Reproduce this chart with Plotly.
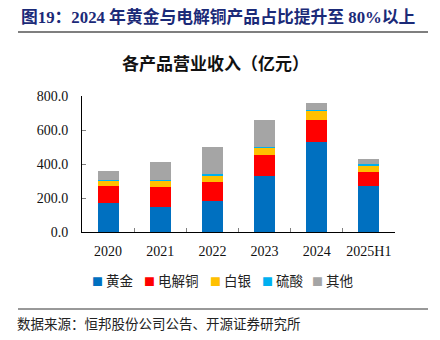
import plotly.graph_objects as go

# ---- data ----
categories = ["2020", "2021", "2022", "2023", "2024", "2025H1"]
gold = [171, 146, 180, 332, 531, 271]
copper = [100, 119, 117, 121, 127, 82]
silver = [31, 37, 37, 45, 55, 39]
acid = [4, 3, 7, 3, 4, 10]
other = [53, 108, 158, 155, 40, 27]
series_names = ["黄金", "电解铜", "白银", "硫酸", "其他"]
y_ticks = [0, 200, 400, 600, 800]

title_text = "图19：2024 年黄金与电解铜产品占比提升至 80%以上"
subtitle_text = "各产品营业收入（亿元）"
source_text = "数据来源：恒邦股份公司公告、开源证券研究所"

# ---- style ----
colors = ["#0070C0", "#FF0000", "#FFC000", "#00B0F0", "#A5A5A5"]
W, H = 440, 340
ML, MR, MT, MB = 82, 45, 96, 108
PW, PH = W - ML - MR, H - MT - MB
SERIF = "Liberation Serif, Noto Sans CJK SC"
CJK = "Noto Sans CJK SC"


def px_x(px):
    return (px - ML) / PW


def px_y(py):
    return (H - MB - py) / PH


fig = go.Figure()
for name, vals, col in zip(series_names, [gold, copper, silver, acid, other], colors):
    fig.add_trace(go.Bar(
        x=categories, y=vals, name=name,
        marker=dict(color=col, line=dict(width=0)),
        showlegend=False,
    ))

# legend drawn as text items (coloured square glyph + name)
legend_left_px = [90, 142, 208, 260, 310]
annotations = []
for name, col, lx in zip(series_names, colors, legend_left_px):
    annotations.append(dict(
        text=f"<span style='color:{col};font-size:11px'>■</span> {name}",
        x=px_x(lx), y=px_y(280), xref="paper", yref="paper",
        xanchor="left", yanchor="middle", showarrow=False,
        font=dict(family=CJK, size=13.5, color="#222222"),
    ))

annotations += [
    dict(text=f"<b>{title_text}</b>", x=px_x(19), y=px_y(17), xref="paper", yref="paper",
         xanchor="left", yanchor="middle", showarrow=False,
         font=dict(family=SERIF, size=16.8, color="#1B2A78")),
    dict(text=f"<b>{subtitle_text}</b>", x=px_x(215), y=px_y(62), xref="paper", yref="paper",
         xanchor="center", yanchor="middle", showarrow=False,
         font=dict(family=CJK, size=17, color="#111111")),
    dict(text=source_text, x=px_x(15), y=px_y(323), xref="paper", yref="paper",
         xanchor="left", yanchor="middle", showarrow=False,
         font=dict(family=CJK, size=13.5, color="#222222")),
]

shapes = [
    dict(type="line", xref="paper", yref="paper", x0=px_x(18), x1=px_x(428),
         y0=px_y(32), y1=px_y(32), line=dict(color="#7F7F7F", width=2)),
    dict(type="line", xref="paper", yref="paper", x0=px_x(18), x1=px_x(428),
         y0=px_y(309), y1=px_y(309), line=dict(color="#333333", width=1)),
]

fig.update_layout(
    width=W, height=H,
    margin=dict(l=ML, r=MR, t=MT, b=MB, pad=0),
    barmode="stack", bargap=0.6,
    plot_bgcolor="white", paper_bgcolor="white",
    annotations=annotations, shapes=shapes,
    showlegend=False,
    xaxis=dict(
        type="category", showline=True, linecolor="#000000", linewidth=1,
        ticks="inside", tickson="boundaries", ticklen=4, tickcolor="#808080",
        tickfont=dict(family=SERIF, size=14, color="#111111"),
        tickangle=0, automargin=False,
        ticklabelstandoff=6, showgrid=False, zeroline=False, fixedrange=True,
    ),
    yaxis=dict(
        range=[0, 800], tickvals=y_ticks, tickformat=".1f",
        showline=True, linecolor="#000000", linewidth=1,
        ticks="inside", ticklen=4, tickcolor="#808080",
        tickfont=dict(family=SERIF, size=14, color="#111111"),
        automargin=False,
        ticklabelstandoff=10, showgrid=False, zeroline=False, fixedrange=True,
    ),
)

fig.write_html("out.html")
